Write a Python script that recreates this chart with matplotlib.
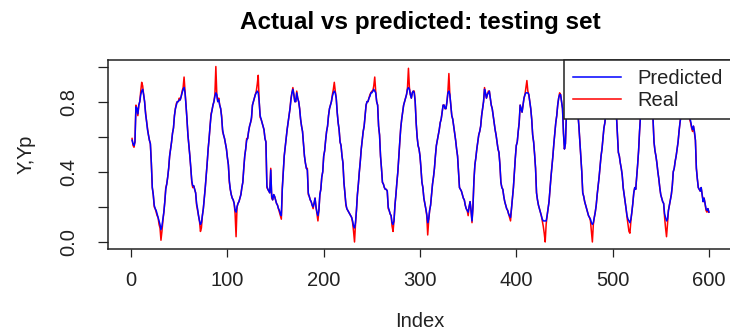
import matplotlib
matplotlib.use('Agg')
import matplotlib.pyplot as plt

plt.rcParams['font.family'] = ['Liberation Sans', 'DejaVu Sans']

# valores (indices 1..600)
real = [
    0.59, 0.55, 0.54, 0.57, 0.78, 0.76, 0.72, 0.78, 0.80, 0.86,
    0.91, 0.89, 0.84, 0.80, 0.74, 0.69, 0.65, 0.61, 0.58, 0.56,
    0.45, 0.31, 0.27, 0.20, 0.19, 0.17, 0.15, 0.14, 0.10, 0.08,
    0.01, 0.06, 0.12, 0.17, 0.23, 0.31, 0.33, 0.37, 0.42, 0.49,
    0.53, 0.57, 0.62, 0.65, 0.72, 0.76, 0.79, 0.80, 0.80, 0.82,
    0.81, 0.83, 0.86, 0.88, 0.94, 0.86, 0.78, 0.70, 0.61, 0.55,
    0.49, 0.42, 0.34, 0.31, 0.32, 0.30, 0.28, 0.21, 0.18, 0.15,
    0.12, 0.06, 0.08, 0.15, 0.19, 0.25, 0.31, 0.38, 0.45, 0.53,
    0.59, 0.66, 0.73, 0.75, 0.78, 0.80, 0.84, 1.00, 0.84, 0.80,
    0.82, 0.78, 0.76, 0.72, 0.63, 0.61, 0.59, 0.56, 0.53, 0.48,
    0.44, 0.34, 0.30, 0.27, 0.25, 0.24, 0.22, 0.16, 0.03, 0.20,
    0.22, 0.23, 0.25, 0.27, 0.31, 0.34, 0.42, 0.49, 0.53, 0.59,
    0.59, 0.63, 0.66, 0.68, 0.70, 0.78, 0.80, 0.82, 0.84, 0.86,
    0.90, 0.95, 0.80, 0.71, 0.70, 0.68, 0.66, 0.64, 0.59, 0.57,
    0.31, 0.30, 0.29, 0.28, 0.42, 0.25, 0.24, 0.27, 0.26, 0.24,
    0.22, 0.21, 0.19, 0.17, 0.15, 0.13, 0.31, 0.40, 0.49, 0.54,
    0.59, 0.64, 0.68, 0.72, 0.76, 0.82, 0.85, 0.88, 0.84, 0.80,
    0.80, 0.86, 0.82, 0.80, 0.76, 0.70, 0.66, 0.63, 0.56, 0.49,
    0.45, 0.42, 0.42, 0.27, 0.26, 0.24, 0.23, 0.21, 0.19, 0.22,
    0.25, 0.20, 0.16, 0.12, 0.18, 0.27, 0.30, 0.37, 0.40, 0.49,
    0.52, 0.58, 0.63, 0.66, 0.72, 0.76, 0.78, 0.80, 0.84, 0.87,
    0.91, 0.86, 0.82, 0.74, 0.68, 0.64, 0.57, 0.55, 0.49, 0.45,
    0.34, 0.28, 0.21, 0.19, 0.18, 0.17, 0.16, 0.15, 0.14, 0.11,
    0.06, 0.00, 0.10, 0.18, 0.27, 0.33, 0.40, 0.46, 0.53, 0.58,
    0.63, 0.66, 0.72, 0.78, 0.80, 0.80, 0.82, 0.84, 0.85, 0.86,
    0.86, 0.89, 0.94, 0.86, 0.80, 0.78, 0.66, 0.61, 0.49, 0.42,
    0.34, 0.33, 0.31, 0.30, 0.30, 0.29, 0.19, 0.18, 0.16, 0.15,
    0.09, 0.06, 0.12, 0.21, 0.27, 0.34, 0.40, 0.49, 0.57, 0.65,
    0.70, 0.74, 0.78, 0.80, 0.82, 0.84, 0.88, 0.99, 0.88, 0.84,
    0.82, 0.85, 0.86, 0.86, 0.80, 0.68, 0.60, 0.55, 0.53, 0.49,
    0.42, 0.34, 0.31, 0.25, 0.22, 0.19, 0.15, 0.04, 0.12, 0.18,
    0.21, 0.27, 0.33, 0.37, 0.42, 0.49, 0.55, 0.58, 0.61, 0.64,
    0.68, 0.70, 0.74, 0.78, 0.78, 0.76, 0.76, 0.80, 0.86, 0.96,
    0.84, 0.78, 0.72, 0.70, 0.66, 0.62, 0.58, 0.53, 0.49, 0.40,
    0.31, 0.30, 0.29, 0.27, 0.25, 0.24, 0.21, 0.19, 0.18, 0.15,
    0.20, 0.23, 0.18, 0.11, 0.20, 0.35, 0.44, 0.48, 0.53, 0.57,
    0.61, 0.63, 0.66, 0.72, 0.76, 0.80, 0.88, 0.85, 0.82, 0.84,
    0.86, 0.86, 0.82, 0.78, 0.76, 0.72, 0.68, 0.64, 0.61, 0.57,
    0.53, 0.51, 0.44, 0.34, 0.31, 0.30, 0.26, 0.23, 0.21, 0.19,
    0.18, 0.16, 0.14, 0.12, 0.19, 0.25, 0.31, 0.40, 0.48, 0.55,
    0.57, 0.63, 0.68, 0.78, 0.76, 0.74, 0.78, 0.82, 0.84, 0.88,
    0.92, 0.86, 0.84, 0.80, 0.76, 0.70, 0.61, 0.57, 0.50, 0.42,
    0.28, 0.24, 0.21, 0.19, 0.17, 0.15, 0.12, 0.09, 0.05, 0.00,
    0.10, 0.15, 0.19, 0.23, 0.30, 0.37, 0.43, 0.49, 0.56, 0.62,
    0.68, 0.72, 0.78, 0.82, 0.85, 0.84, 0.80, 0.76, 0.62, 0.53,
    0.56, 0.72, 0.78, 0.82, 0.86, 0.88, 0.90, 0.86, 0.82, 0.80,
    0.78, 0.80, 0.76, 0.73, 0.66, 0.57, 0.49, 0.40, 0.28, 0.26,
    0.23, 0.21, 0.19, 0.17, 0.15, 0.14, 0.12, 0.06, 0.00, 0.10,
    0.14, 0.17, 0.21, 0.27, 0.32, 0.37, 0.43, 0.49, 0.53, 0.59,
    0.65, 0.68, 0.74, 0.80, 0.84, 0.86, 0.88, 0.90, 0.86, 0.84,
    0.82, 0.80, 0.76, 0.72, 0.62, 0.51, 0.49, 0.45, 0.42, 0.38,
    0.31, 0.27, 0.23, 0.19, 0.14, 0.10, 0.06, 0.05, 0.12, 0.17,
    0.22, 0.28, 0.31, 0.30, 0.37, 0.44, 0.52, 0.63, 0.72, 0.78,
    0.82, 0.85, 0.88, 0.90, 0.87, 0.84, 0.86, 0.82, 0.80, 0.78,
    0.74, 0.70, 0.57, 0.52, 0.49, 0.45, 0.40, 0.36, 0.31, 0.27,
    0.25, 0.23, 0.22, 0.14, 0.08, 0.03, 0.10, 0.18, 0.21, 0.24,
    0.27, 0.32, 0.40, 0.42, 0.46, 0.49, 0.53, 0.57, 0.63, 0.68,
    0.72, 0.76, 0.80, 0.84, 0.86, 0.88, 0.90, 0.84, 0.76, 0.70,
    0.68, 0.65, 0.63, 0.66, 0.62, 0.58, 0.42, 0.36, 0.31, 0.30,
    0.29, 0.31, 0.27, 0.23, 0.25, 0.22, 0.18, 0.17, 0.19, 0.17,
]

predicted = [
    0.58, 0.56, 0.55, 0.57, 0.77, 0.76, 0.73, 0.78, 0.80, 0.84,
    0.86, 0.87, 0.84, 0.80, 0.73, 0.69, 0.64, 0.61, 0.58, 0.56,
    0.45, 0.31, 0.27, 0.21, 0.19, 0.18, 0.16, 0.14, 0.12, 0.10,
    0.07, 0.09, 0.13, 0.17, 0.23, 0.30, 0.33, 0.37, 0.42, 0.49,
    0.53, 0.57, 0.62, 0.65, 0.72, 0.76, 0.78, 0.80, 0.80, 0.81,
    0.81, 0.83, 0.85, 0.87, 0.88, 0.85, 0.78, 0.70, 0.61, 0.55,
    0.49, 0.42, 0.35, 0.32, 0.32, 0.30, 0.28, 0.22, 0.19, 0.15,
    0.12, 0.10, 0.11, 0.15, 0.19, 0.25, 0.31, 0.38, 0.45, 0.53,
    0.59, 0.66, 0.72, 0.75, 0.78, 0.80, 0.83, 0.85, 0.84, 0.80,
    0.81, 0.78, 0.76, 0.71, 0.64, 0.61, 0.59, 0.56, 0.53, 0.48,
    0.44, 0.35, 0.30, 0.27, 0.25, 0.24, 0.22, 0.18, 0.17, 0.20,
    0.22, 0.23, 0.25, 0.27, 0.31, 0.34, 0.42, 0.49, 0.53, 0.58,
    0.59, 0.63, 0.66, 0.68, 0.71, 0.78, 0.80, 0.82, 0.84, 0.85,
    0.86, 0.85, 0.80, 0.72, 0.70, 0.68, 0.66, 0.64, 0.59, 0.57,
    0.32, 0.30, 0.29, 0.28, 0.41, 0.26, 0.24, 0.27, 0.26, 0.24,
    0.22, 0.21, 0.19, 0.18, 0.16, 0.15, 0.30, 0.40, 0.49, 0.54,
    0.59, 0.64, 0.68, 0.72, 0.76, 0.81, 0.85, 0.87, 0.84, 0.80,
    0.80, 0.85, 0.82, 0.80, 0.76, 0.70, 0.66, 0.63, 0.56, 0.49,
    0.45, 0.42, 0.41, 0.28, 0.26, 0.24, 0.23, 0.21, 0.20, 0.22,
    0.25, 0.20, 0.17, 0.15, 0.18, 0.27, 0.30, 0.37, 0.40, 0.49,
    0.52, 0.58, 0.63, 0.66, 0.72, 0.76, 0.78, 0.80, 0.83, 0.85,
    0.86, 0.85, 0.82, 0.74, 0.68, 0.64, 0.57, 0.55, 0.49, 0.45,
    0.34, 0.28, 0.22, 0.19, 0.18, 0.17, 0.16, 0.15, 0.14, 0.12,
    0.09, 0.08, 0.11, 0.18, 0.27, 0.33, 0.40, 0.46, 0.53, 0.58,
    0.63, 0.66, 0.72, 0.78, 0.80, 0.80, 0.82, 0.83, 0.85, 0.85,
    0.86, 0.87, 0.86, 0.85, 0.80, 0.78, 0.66, 0.61, 0.49, 0.42,
    0.34, 0.33, 0.31, 0.30, 0.30, 0.29, 0.20, 0.18, 0.16, 0.15,
    0.11, 0.10, 0.12, 0.21, 0.27, 0.34, 0.40, 0.49, 0.57, 0.65,
    0.70, 0.74, 0.78, 0.80, 0.82, 0.84, 0.87, 0.88, 0.87, 0.84,
    0.82, 0.85, 0.86, 0.85, 0.80, 0.68, 0.60, 0.55, 0.53, 0.49,
    0.42, 0.34, 0.31, 0.25, 0.22, 0.19, 0.16, 0.11, 0.13, 0.18,
    0.21, 0.27, 0.33, 0.37, 0.42, 0.49, 0.55, 0.58, 0.61, 0.64,
    0.68, 0.70, 0.74, 0.78, 0.78, 0.76, 0.76, 0.80, 0.85, 0.86,
    0.84, 0.78, 0.72, 0.70, 0.66, 0.62, 0.58, 0.53, 0.49, 0.40,
    0.31, 0.30, 0.29, 0.27, 0.25, 0.24, 0.21, 0.19, 0.18, 0.17,
    0.20, 0.23, 0.18, 0.12, 0.20, 0.35, 0.44, 0.48, 0.53, 0.57,
    0.61, 0.63, 0.66, 0.72, 0.76, 0.80, 0.87, 0.85, 0.82, 0.84,
    0.85, 0.86, 0.82, 0.78, 0.76, 0.72, 0.68, 0.64, 0.61, 0.57,
    0.53, 0.51, 0.44, 0.34, 0.31, 0.30, 0.26, 0.23, 0.21, 0.19,
    0.18, 0.16, 0.15, 0.14, 0.19, 0.25, 0.31, 0.40, 0.48, 0.55,
    0.57, 0.63, 0.68, 0.78, 0.76, 0.74, 0.78, 0.82, 0.84, 0.85,
    0.85, 0.85, 0.84, 0.80, 0.76, 0.70, 0.61, 0.57, 0.50, 0.42,
    0.28, 0.24, 0.21, 0.19, 0.17, 0.15, 0.13, 0.12, 0.12, 0.12,
    0.12, 0.15, 0.19, 0.23, 0.30, 0.37, 0.43, 0.49, 0.56, 0.62,
    0.68, 0.72, 0.78, 0.82, 0.84, 0.84, 0.80, 0.76, 0.62, 0.53,
    0.56, 0.72, 0.78, 0.82, 0.85, 0.86, 0.86, 0.85, 0.82, 0.80,
    0.78, 0.80, 0.76, 0.73, 0.66, 0.57, 0.49, 0.40, 0.28, 0.26,
    0.23, 0.21, 0.19, 0.17, 0.15, 0.14, 0.13, 0.11, 0.10, 0.11,
    0.14, 0.17, 0.21, 0.27, 0.32, 0.37, 0.43, 0.49, 0.53, 0.59,
    0.65, 0.68, 0.74, 0.80, 0.83, 0.85, 0.86, 0.86, 0.85, 0.84,
    0.82, 0.80, 0.76, 0.72, 0.62, 0.51, 0.49, 0.45, 0.42, 0.38,
    0.31, 0.27, 0.23, 0.19, 0.15, 0.13, 0.12, 0.11, 0.13, 0.17,
    0.22, 0.28, 0.31, 0.30, 0.37, 0.44, 0.52, 0.63, 0.72, 0.78,
    0.82, 0.84, 0.86, 0.86, 0.86, 0.84, 0.85, 0.82, 0.80, 0.78,
    0.74, 0.70, 0.57, 0.52, 0.49, 0.45, 0.40, 0.36, 0.31, 0.27,
    0.25, 0.23, 0.22, 0.16, 0.14, 0.12, 0.13, 0.18, 0.21, 0.24,
    0.27, 0.32, 0.40, 0.42, 0.46, 0.49, 0.53, 0.57, 0.63, 0.68,
    0.72, 0.76, 0.80, 0.83, 0.85, 0.86, 0.86, 0.84, 0.76, 0.71,
    0.69, 0.66, 0.64, 0.66, 0.63, 0.58, 0.42, 0.36, 0.31, 0.30,
    0.29, 0.31, 0.27, 0.23, 0.25, 0.22, 0.19, 0.18, 0.19, 0.17,
]

index = list(range(1, len(real) + 1))

xticks = [0, 100, 200, 300, 400, 500, 600]
yticks = [0.0, 0.2, 0.4, 0.6, 0.8, 1.0]
ytick_labels = ['0.0', '', '0.4', '', '0.8', '']

fig = plt.figure(figsize=(7.3, 3.3), dpi=100)
ax = fig.add_axes([108 / 730, 1 - 249 / 330, 624 / 730, 189.5 / 330])

l_real, = ax.plot(index, real, color='red', lw=1.1)
l_pred, = ax.plot(index, predicted, color='blue', lw=1.1)

ax.set_xlim(-24, 624)
ax.set_ylim(-0.04, 1.04)
ax.set_xticks(xticks)
ax.set_yticks(yticks)
ax.set_yticklabels(ytick_labels, rotation=90, va='center')
ax.tick_params(axis='x', length=6, width=0.9, pad=10, labelsize=14.5, colors='#222222')
ax.tick_params(axis='y', length=7.5, width=0.9, pad=14, labelsize=14.5, colors='#222222')
for s in ax.spines.values():
    s.set_linewidth(1.1)
    s.set_color('#222222')

ax.set_title('Actual vs predicted: testing set', fontsize=17.5, fontweight='bold', pad=22)
ax.set_xlabel('Index', fontsize=14.5, labelpad=16, color='#222222')
ax.set_ylabel('Y,Yp', fontsize=14.5, labelpad=17, color='#222222')

leg = ax.legend([l_pred, l_real], ['Predicted', 'Real'], loc='upper right',
                borderaxespad=0, fontsize=14.5, frameon=True, fancybox=False,
                edgecolor='#222222', framealpha=1, handlelength=2.4,
                handletextpad=0.8, labelspacing=0.15, borderpad=0.45)
leg.get_frame().set_linewidth(1.1)
for t in leg.get_texts():
    t.set_color('#222222')

fig.savefig('out.png', dpi=100)
